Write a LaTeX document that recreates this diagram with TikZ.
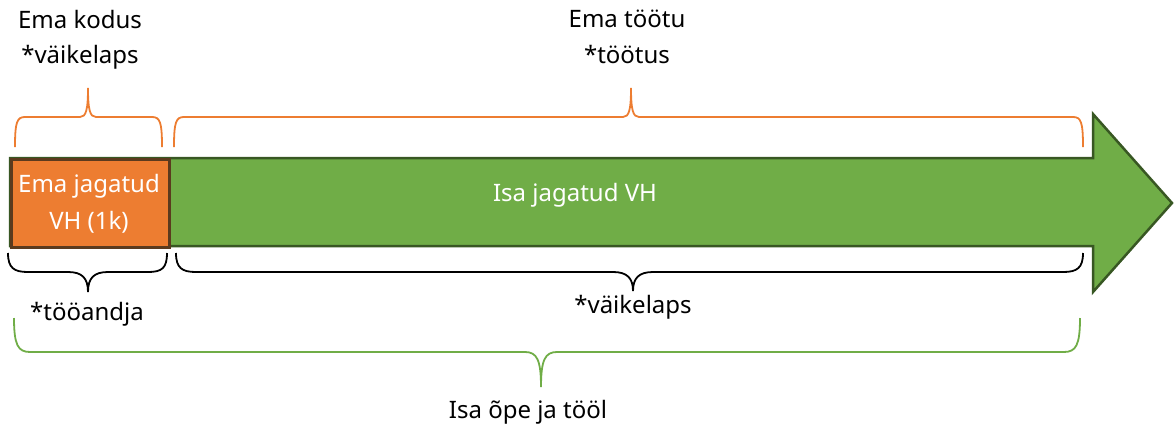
\documentclass[tikz,border=0pt]{standalone}
\usepackage{fontspec}
\setmainfont{Noto Sans}
\definecolor{oorange}{HTML}{ED7D31}
\definecolor{ogreen}{HTML}{70AD47}
\definecolor{dgreen}{HTML}{385723}
\definecolor{dbrown}{HTML}{5B3A1E}
\tikzset{
  lbl/.style={font=\fontsize{24}{28}\selectfont, text=black, anchor=base, inner sep=0pt},
  wlbl/.style={lbl, text=white},
  obrace/.style={draw=oorange, line width=1.8pt},
  kbrace/.style={draw=black, line width=1.8pt},
  gbrace/.style={draw=ogreen, line width=1.8pt},
}
\begin{document}
\begin{tikzpicture}[x=1pt,y=-1pt]
\useasboundingbox (0,0) rectangle (1175,429);
% big arrow
\draw[fill=ogreen, draw=dgreen, line width=2.5pt, line join=miter]
  (10,158) -- (1093,158) -- (1093,114) -- (1172,203) -- (1093,292) -- (1093,246) -- (10,246) -- cycle;
\node[draw=dbrown, fill=oorange, line width=2.5pt, minimum width=158pt, minimum height=88pt, inner sep=0pt, anchor=north west] (ema) at (10,158) {};
\node[wlbl] (emaj1) at (89,192) {Ema jagatud};
\node[wlbl] (emaj2) at (89,229) {VH (1k)};
\node[wlbl] (isaj) at (575,201) {Isa jagatud VH};
% top labels
\node[lbl] (emak) at (80,28) {Ema kodus};
\node[lbl] (emav) at (80,63) {*väikelaps};
\node[lbl] (emat) at (627,27) {Ema töötu};
\node[lbl] (emats) at (627,63) {*töötus};
% bottom labels
\node[lbl, anchor=base west] (too) at (30,320) {*tööandja};
\node[lbl] (vaike) at (633,313) {*väikelaps};
\node[lbl] (isa) at (528,418) {Isa õpe ja tööl};
% orange braces (top)
\draw[obrace] (15,147) .. controls (15,122) and (17,117) .. (25,117) -- (80,117)
  .. controls (86,117) and (88,110) .. (88,88)
  .. controls (88,110) and (90,117) .. (96,117) -- (152,117)
  .. controls (160,117) and (162,122) .. (162,147);
\draw[obrace] (174,147) .. controls (174,122) and (176,117) .. (184,117) -- (623,117)
  .. controls (629,117) and (631,110) .. (631,88)
  .. controls (631,110) and (633,117) .. (639,117) -- (1073,117)
  .. controls (1081,117) and (1083,122) .. (1083,147);
% black braces (bottom)
\draw[kbrace] (8,253) .. controls (8,268) and (14,272) .. (28,272) -- (68,272)
  .. controls (82,272) and (88,278) .. (88,292)
  .. controls (88,278) and (94,272) .. (108,272) -- (148,272)
  .. controls (162,272) and (167,268) .. (167,253);
\draw[kbrace] (176,253) .. controls (176,268) and (182,272) .. (196,272) -- (613,272)
  .. controls (627,272) and (633,278) .. (633,291)
  .. controls (633,278) and (639,272) .. (653,272) -- (1063,272)
  .. controls (1077,272) and (1083,268) .. (1083,253);
% green brace
\draw[gbrace] (14,318) .. controls (14,345) and (18,352) .. (30,352) -- (525,352)
  .. controls (537,352) and (541,360) .. (541,387)
  .. controls (541,360) and (545,352) .. (557,352) -- (1064,352)
  .. controls (1076,352) and (1080,345) .. (1080,318);
\end{tikzpicture}
\end{document}
